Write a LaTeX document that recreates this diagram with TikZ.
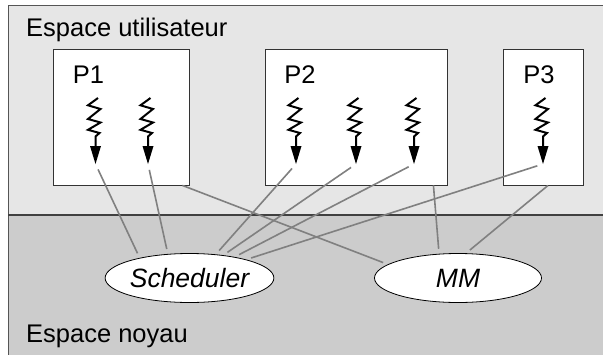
\documentclass[tikz,border=0pt]{standalone}
\usepackage{fontspec}
\setmainfont{Liberation Sans}
\usetikzlibrary{shapes.geometric,calc}
\definecolor{userbg}{HTML}{E6E6E6}
\definecolor{kernbg}{HTML}{CCCCCC}
\definecolor{frame}{HTML}{555555}
\definecolor{conncol}{HTML}{808080}
\tikzset{
  lbl/.style={font=\fontsize{25.5}{30}\selectfont, inner sep=0pt},
  procbox/.style={draw=black!80, fill=white, line width=0.9pt, inner sep=0pt, minimum height=136pt},
  svc/.style={draw=black, fill=white, ellipse, line width=0.8pt, inner sep=0pt,
              minimum width=167pt, minimum height=49pt, font=\fontsize{26.5}{31}\selectfont\itshape},
  conn/.style={draw=conncol, line width=1.6pt, shorten >=5pt},
  zig/.style={draw=black, line width=2pt, line join=miter},
  thread/.pic={
    \draw[zig] (2.5,0) -- (-7.5,7.3) -- (5,11) -- (-7.5,21) -- (5,24.5) -- (-7.5,31.8) -- (4,35) -- (0,38.5) -- (0,49);
    \fill (0,66) -- (-5.5,48) -- (5.5,48) -- cycle;
    \coordinate (-tip) at (0,66);
  }
}
\begin{document}
\begin{tikzpicture}[x=1pt, y=-1pt]
\useasboundingbox (0,0) rectangle (603,354);
\clip (0,0) rectangle (603,354);
% backgrounds
\fill[userbg] (8,5) rectangle (620,215);
\fill[kernbg] (8,215) rectangle (620,370);
\draw[frame, line width=1pt] (620,5) -- (8,5) -- (8,370);
\draw[black!75, line width=1.3pt] (8,215) -- (620,215);
% region labels
\node[lbl, anchor=base west] (eu) at (26,36) {Espace utilisateur};
\node[lbl, anchor=base west] (en) at (26,342) {Espace noyau};
% process boxes
\node[procbox, minimum width=136pt] (p1) at (121,117) {};
\node[procbox, minimum width=182pt] (p2) at (356,117) {};
\node[procbox, minimum width=80pt] (p3) at (543,117) {};
\node[lbl, anchor=base] (p1l) at (88.5,83) {P1};
\node[lbl, anchor=base] (p2l) at (300,83) {P2};
\node[lbl, anchor=base] (p3l) at (539,83) {P3};
% threads
\pic (ta) at (95.5,98) {thread};
\pic (tb) at (148,98) {thread};
\pic (tc) at (296,98) {thread};
\pic (td) at (356,98) {thread};
\pic (te) at (414,98) {thread};
\pic (tf) at (543,98) {thread};
% kernel services
\node[svc] (sch) at (189.5,278) {Scheduler};
\node[svc] (mm) at (458,278) {MM};
% connectors
\draw[conn, shorten <=6pt] (ta-tip) -- (sch.158);
\draw[conn, shorten <=6pt] (tb-tip) -- (sch.132);
\draw[conn, shorten <=6pt] (tc-tip) -- (sch.42);
\draw[conn, shorten <=6pt] (td-tip) -- (sch.34);
\draw[conn, shorten <=6pt] (te-tip) -- (sch.25);
\draw[conn, shorten <=6pt] (tf-tip) -- (sch.18);
\draw[conn] ($(p1.south east)+(-7,0)$) -- (mm.169);
\draw[conn] ($(p2.south east)+(-14,0)$) -- (mm.128);
\draw[conn] ($(p3.south)+(5,0)$) -- (mm.72);
\end{tikzpicture}
\end{document}
